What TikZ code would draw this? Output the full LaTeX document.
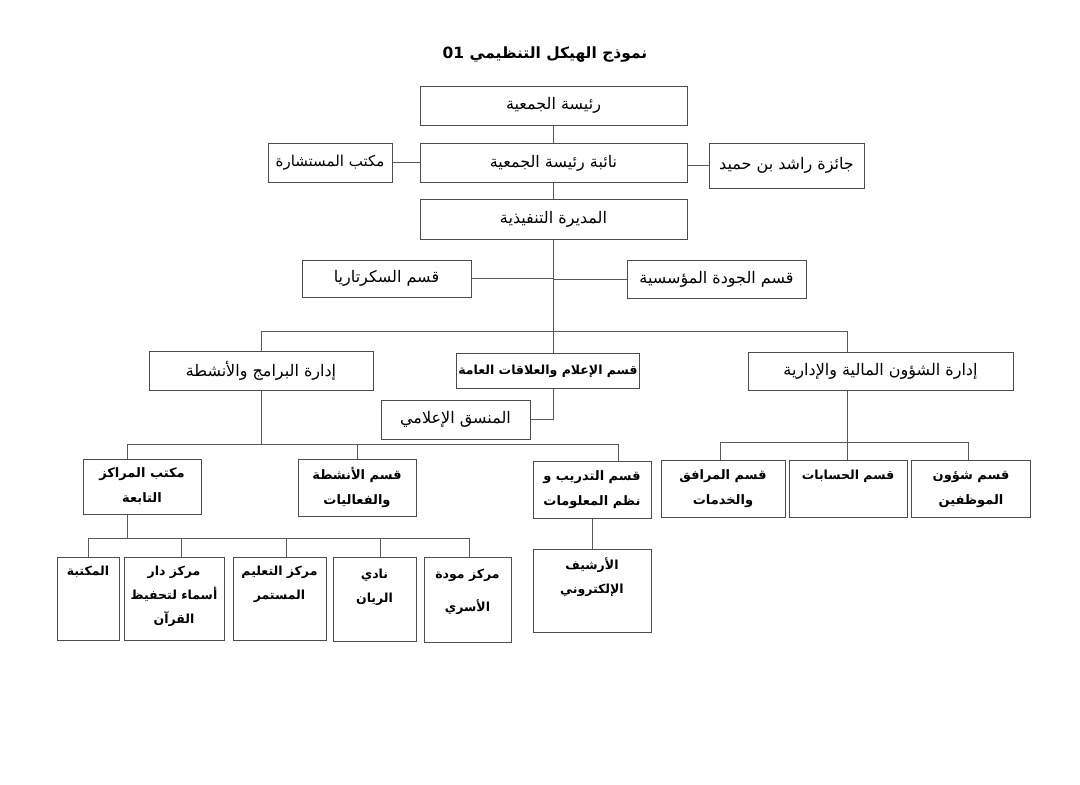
\documentclass[tikz,border=0pt]{standalone}
\usepackage{fontspec}
\usetikzlibrary{positioning}
\newfontfamily\arabicfont[Script=Arabic]{DejaVu Sans}
\TeXXeTstate=1
\newcommand{\ar}[1]{{\arabicfont\beginR #1\endR}}

\begin{document}
\begin{tikzpicture}[x=1pt, y=-1pt,
  every node/.style={font=\fontsize{16}{20}\selectfont},
  box/.style={draw=black!70, line width=1pt, inner sep=2pt, align=center},
  boldbox/.style={box, font=\bfseries\fontsize{13}{25}\selectfont},
  toptext/.style={anchor=north, yshift=-6pt, align=center, font=\arabicfont\bfseries\fontsize{12.5}{24}\selectfont},
  link/.style={draw=black!65, line width=0.9pt}]
  \fill[white] (0,0) rectangle (1080,785);
  \useasboundingbox (0,0) rectangle (1080,785);

  % title
  \node[font=\bfseries\fontsize{15.5}{20}\selectfont] (title) at (545,55) {\ar{نموذج الهيكل التنظيمي \beginL 01\endL}};

  % top levels
  \node[box, minimum width=267pt, minimum height=39pt] (pres) at (553.5,105.5) {\ar{رئيسة الجمعية}};
  \node[box, minimum width=267pt, minimum height=39pt] (vice) at (553.5,163) {\ar{نائبة رئيسة الجمعية}};
  \node[box, minimum width=124pt, minimum height=39pt, font=\fontsize{15}{20}\selectfont] (counsel) at (330,162.5) {\ar{مكتب المستشارة}};
  \node[box, minimum width=155pt, minimum height=45pt] (award) at (786.5,165.5) {\ar{جائزة راشد بن حميد}};
  \node[box, minimum width=267pt, minimum height=40pt] (dir) at (553.5,219) {\ar{المديرة التنفيذية}};
  \node[box, minimum width=169pt, minimum height=37pt] (secr) at (386.5,278.5) {\ar{قسم السكرتاريا}};
  \node[box, minimum width=179pt, minimum height=38pt] (qual) at (716.5,279) {\ar{قسم الجودة المؤسسية}};

  % departments
  \node[box, minimum width=224pt, minimum height=39pt] (progs) at (261,371) {\ar{إدارة البرامج والأنشطة}};
  \node[boldbox, minimum width=180pt, minimum height=35pt, font=\bfseries\fontsize{12.5}{20}\selectfont] (media) at (548,371) {\ar{قسم الإعلام والعلاقات العامة}};
  \node[box, minimum width=265pt, minimum height=38pt] (fin) at (880.5,371) {\ar{إدارة الشؤون المالية والإدارية}};
  \node[box, minimum width=149pt, minimum height=39pt] (coord) at (455.5,419.5) {\ar{المنسق الإعلامي}};

  % sections
  \node[boldbox, minimum width=118pt, minimum height=55pt] (centers) at (142,486.5) {\ar{مكتب المراكز}\\\ar{التابعة}};
  \node[boldbox, minimum width=118pt, minimum height=57pt] (activ) at (357,487.5) {\ar{قسم الأنشطة}\\\ar{والفعاليات}};
  \node[boldbox, minimum width=118pt, minimum height=57pt] (train) at (592,489.5) {\ar{قسم التدريب و}\\\ar{نظم المعلومات}};
  \node[boldbox, minimum width=124pt, minimum height=57pt] (facil) at (723,489) {\ar{قسم المرافق}\\\ar{والخدمات}};
  \node[box, minimum width=118pt, minimum height=57pt, label={[toptext]north:{\beginR قسم الحسابات\endR}}] (acct) at (848,489) {};
  \node[boldbox, minimum width=119pt, minimum height=57pt] (staff) at (971,489) {\ar{قسم شؤون}\\\ar{الموظفين}};
  \node[box, minimum width=118pt, minimum height=83pt, label={[toptext]north:{\beginR الأرشيف\endR\\\beginR الإلكتروني\endR}}] (archive) at (592,590.5) {};

  % centers
  \node[box, minimum width=62pt, minimum height=83pt, label={[toptext]north:{\beginR المكتبة\endR}}] (library) at (88,598.5) {};
  \node[box, minimum width=100pt, minimum height=83pt, label={[toptext]north:{\beginR مركز دار\endR\\\beginR أسماء لتحفيظ\endR\\\beginR القرآن\endR}}] (quran) at (174,598.5) {};
  \node[box, minimum width=93pt, minimum height=83pt, label={[toptext]north:{\beginR مركز التعليم\endR\\\beginR المستمر\endR}}] (edu) at (279.5,598.5) {};
  \node[box, minimum width=83pt, minimum height=84pt, label={[toptext, yshift=-3pt]north:{\beginR نادي\endR\\\beginR الريان\endR}}] (rayyan) at (374.5,599) {};
  \node[box, minimum width=87pt, minimum height=85pt, label={[toptext, yshift=-3pt, font=\arabicfont\bfseries\fontsize{12.5}{33}\selectfont]north:{\beginR مركز مودة\endR\\\beginR الأسري\endR}}] (mawadda) at (467.5,599.5) {};

  % bus points
  \coordinate (busR) at (847,331);
  \coordinate (p1) at (127,444);
  \coordinate (p3) at (618,444);
  \coordinate (f1) at (720,442);
  \coordinate (f3) at (968,442);
  \coordinate (c1) at (88,538);
  \coordinate (c5) at (469,538);

  % connectors
  \draw[link] (pres) -- (vice);
  \draw[link] (counsel.east) -- (counsel.east -| vice.west);
  \draw[link] (award.west) -- (award.west -| vice.east);
  \draw[link] (vice) -- (dir);
  \draw[link] (dir.south) -- (dir.south |- media.north);
  \draw[link] (secr.east) -- (secr.east -| dir.south);
  \draw[link] (qual.west) -- (qual.west -| dir.south);
  \draw[link] (progs.north) |- (busR) -- (busR |- fin.north);
  \draw[link] (media.south -| dir.south) |- (coord.east);

  \draw[link] (progs.south) -- (progs.south |- p1);
  \draw[link] (p1 |- centers.north) |- (p3) -- (p3 |- train.north);
  \draw[link] (activ.north) -- (activ.north |- p1);
  \draw[link] (train) -- (archive);

  \draw[link] (busR |- fin.south) -- (busR |- acct.north);
  \draw[link] (f1 |- facil.north) |- (f3) -- (f3 |- staff.north);

  \draw[link] (p1 |- centers.south) -- (p1 |- c1);
  \draw[link] (library.north) |- (c5) -- (c5 |- mawadda.north);
  \foreach \n/\x in {quran/181, edu/286, rayyan/380}
    \draw[link] (\x,0 |- c1) -- (\x,0 |- \n.north);
\end{tikzpicture}
\end{document}
